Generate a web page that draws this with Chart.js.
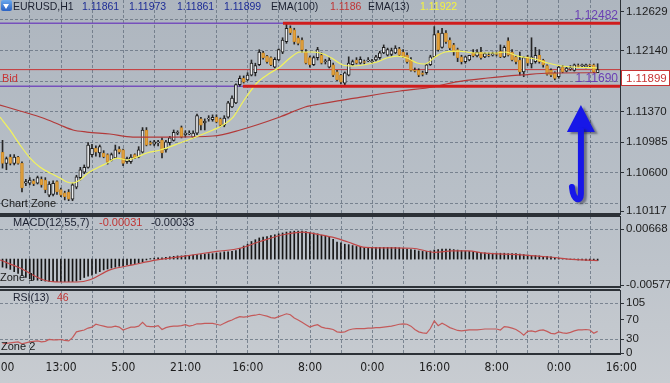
<!DOCTYPE html>
<html>
<head>
<meta charset="utf-8">
<script src="https://cdn.jsdelivr.net/npm/chart.js@4.4.0/dist/chart.umd.min.js"></script>
<style>
html, body { margin: 0; padding: 0; }
body {
    width: 670px; height: 383px; overflow: hidden; position: relative;
    background: linear-gradient(180deg, #aeb6bf 0%, #b9c0c8 55%, #c8ccd1 100%);
    font-family: "Liberation Sans", Arial, sans-serif;
}
canvas { position: absolute; left: 0; top: 0; }
.t { position: absolute; white-space: nowrap; font-size: 10.5px; line-height: 12px; color: #1b2030; }
.blue { color: #1d2c96; }
.red { color: #c03434; }
.yel { color: #f4f23e; }
.zone { font-size: 11px; color: #1a1a1a; }
#icon { position: absolute; left: 1px; top: 0; width: 11px; height: 11px; background: linear-gradient(#6aa8ec, #2a62c4); border-radius: 2px; }
#icon:after { content: ""; position: absolute; left: 2px; top: 4px; border-left: 3.5px solid transparent; border-right: 3.5px solid transparent; border-top: 5px solid #fff; }
</style>
</head>
<body>
<canvas id="main" width="670" height="383"></canvas>
<canvas id="macd" width="670" height="383"></canvas>
<canvas id="rsi" width="670" height="383"></canvas>

<div id="icon"></div>
<div class="t" style="left:13px;top:0">EURUSD,H1</div>
<div class="t blue" style="left:82px;top:0">1.11861</div>
<div class="t blue" style="left:129px;top:0">1.11973</div>
<div class="t blue" style="left:177px;top:0">1.11861</div>
<div class="t blue" style="left:224px;top:0">1.11899</div>
<div class="t" style="left:271px;top:0">EMA(100)</div>
<div class="t red" style="left:330px;top:0">1.1186</div>
<div class="t" style="left:368px;top:0">EMA(13)</div>
<div class="t yel" style="left:420px;top:0">1.11922</div>
<div class="t zone" style="left:1px;top:197px">Chart Zone</div>

<div class="t" style="left:13px;top:216px;font-size:11px">MACD(12,55,7)</div>
<div class="t red" style="left:99px;top:216px;font-size:11px">-0.00031</div>
<div class="t" style="left:151px;top:216px;font-size:11px">-0.00033</div>
<div class="t zone" style="left:0;top:271px">Zone 1</div>

<div class="t" style="left:13px;top:291px">RSI(13)</div>
<div class="t red" style="left:57px;top:291px">46</div>
<div class="t zone" style="left:1px;top:340px">Zone 2</div>

<script>
// EURUSD H1, one value per bar (bar 0 = leftmost)
const OPENS = [1.1086,1.1072,1.1080,1.1072,1.1080,1.1072,1.1047,1.1047,1.1050,1.1047,1.1052,1.1051,1.1032,1.1033,1.1049,1.1039,1.1035,1.1036,1.1027,1.1042,
1.1054,1.1061,1.1067,1.1083,1.1091,1.1085,1.1085,1.1083,1.1076,1.1079,1.1090,1.1089,1.1074,1.1074,1.1083,1.1080,1.1086,1.1114,1.1098,1.1096,
1.1098,1.1101,1.1089,1.1098,1.1101,1.1110,1.1117,1.1108,1.1109,1.1105,1.1110,1.1128,1.1123,1.1128,1.1127,1.1130,1.1128,1.1120,1.1130,1.1143,
1.1148,1.1171,1.1179,1.1177,1.1183,1.1186,1.1196,1.1211,1.1207,1.1205,1.1193,1.1202,1.1212,1.1225,1.1242,1.1240,1.1230,1.1227,1.1212,1.1205,
1.1196,1.1205,1.1208,1.1200,1.1193,1.1196,1.1187,1.1183,1.1173,1.1183,1.1196,1.1202,1.1198,1.1200,1.1201,1.1200,1.1202,1.1205,1.1211,1.1208,
1.1209,1.1211,1.1216,1.1212,1.1208,1.1202,1.1189,1.1189,1.1186,1.1186,1.1196,1.1206,1.1236,1.1218,1.1236,1.1227,1.1221,1.1215,1.1206,1.1200,
1.1202,1.1211,1.1207,1.1212,1.1206,1.1208,1.1208,1.1210,1.1213,1.1206,1.1226,1.1212,1.1206,1.1202,1.1187,1.1206,1.1197,1.1200,1.1208,1.1202,
1.1195,1.1189,1.1186,1.1181,1.1193,1.1188,1.1191,1.1189,1.1195,1.1195,1.1193,1.1196,1.1196,1.11861];
const HIGHS = [1.1101,1.1080,1.1083,1.1083,1.1081,1.1074,1.1052,1.1054,1.1052,1.1056,1.1055,1.1054,1.1049,1.1050,1.1050,1.1041,1.1037,1.1039,1.1047,1.1057,
1.1067,1.1070,1.1098,1.1096,1.1094,1.1095,1.1088,1.1084,1.1085,1.1095,1.1093,1.1090,1.1080,1.1083,1.1084,1.1093,1.1117,1.1117,1.1100,1.1101,
1.1101,1.1104,1.1101,1.1106,1.1114,1.1113,1.1119,1.1113,1.1113,1.1113,1.1134,1.1130,1.1128,1.1132,1.1133,1.1133,1.1129,1.1132,1.1150,1.1157,
1.1172,1.1182,1.1182,1.1186,1.1202,1.1198,1.1215,1.1213,1.1208,1.1206,1.1205,1.1216,1.1230,1.1247,1.1245,1.1242,1.1232,1.1230,1.1215,1.1207,
1.1207,1.1218,1.1211,1.1203,1.1205,1.1198,1.1189,1.1184,1.1187,1.1206,1.1202,1.1205,1.1206,1.1202,1.1205,1.1203,1.1208,1.1213,1.1221,1.1217,
1.1217,1.1220,1.1218,1.1215,1.1211,1.1205,1.1192,1.1191,1.1188,1.1197,1.1208,1.1244,1.1239,1.1242,1.1239,1.1230,1.1223,1.1217,1.1208,1.1207,
1.1208,1.1215,1.1215,1.1218,1.1211,1.1211,1.1212,1.1212,1.1221,1.1220,1.1230,1.1215,1.1208,1.1212,1.1206,1.1208,1.1230,1.1218,1.1215,1.1203,
1.1196,1.1191,1.1187,1.1195,1.1195,1.1193,1.1195,1.1197,1.1197,1.1197,1.1197,1.1197,1.1197,1.11973];
const LOWS = [1.1066,1.1064,1.1070,1.1070,1.1071,1.1036,1.1044,1.1045,1.1044,1.1046,1.1042,1.1035,1.1030,1.1031,1.1033,1.1030,1.1026,1.1025,1.1025,1.1040,
1.1051,1.1059,1.1066,1.1080,1.1081,1.1080,1.1079,1.1071,1.1075,1.1078,1.1084,1.1069,1.1072,1.1072,1.1078,1.1079,1.1085,1.1094,1.1095,1.1094,
1.1094,1.1079,1.1086,1.1095,1.1100,1.1108,1.1104,1.1105,1.1108,1.1104,1.1108,1.1114,1.1114,1.1125,1.1125,1.1123,1.1118,1.1118,1.1129,1.1142,
1.1147,1.1169,1.1173,1.1176,1.1182,1.1182,1.1195,1.1203,1.1198,1.1195,1.1192,1.1201,1.1210,1.1223,1.1234,1.1222,1.1221,1.1212,1.1197,1.1193,
1.1195,1.1202,1.1197,1.1197,1.1192,1.1181,1.1176,1.1172,1.1171,1.1182,1.1195,1.1197,1.1197,1.1197,1.1200,1.1198,1.1201,1.1203,1.1210,1.1207,
1.1207,1.1210,1.1207,1.1205,1.1198,1.1188,1.1187,1.1181,1.1182,1.1184,1.1195,1.1205,1.1213,1.1217,1.1223,1.1215,1.1208,1.1200,1.1197,1.1198,
1.1201,1.1206,1.1206,1.1203,1.1205,1.1206,1.1207,1.1207,1.1205,1.1205,1.1207,1.1201,1.1197,1.1183,1.1181,1.1195,1.1192,1.1198,1.1198,1.1193,
1.1183,1.1181,1.1177,1.1179,1.1186,1.1187,1.1189,1.1188,1.1193,1.1193,1.1192,1.1193,1.1186,1.11861];
const CLOSES = [1.1072,1.1078,1.1072,1.1080,1.1072,1.1041,1.1049,1.1051,1.1046,1.1054,1.1045,1.1039,1.1046,1.1047,1.1036,1.1032,1.1030,1.1027,1.1045,1.1055,
1.1064,1.1067,1.1095,1.1091,1.1086,1.1093,1.1080,1.1074,1.1083,1.1089,1.1086,1.1072,1.1078,1.1080,1.1079,1.1089,1.1114,1.1095,1.1096,1.1099,
1.1099,1.1085,1.1099,1.1104,1.1111,1.1111,1.1105,1.1110,1.1110,1.1110,1.1132,1.1120,1.1125,1.1129,1.1130,1.1124,1.1120,1.1129,1.1148,1.1154,
1.1171,1.1179,1.1174,1.1183,1.1198,1.1195,1.1212,1.1205,1.1200,1.1196,1.1203,1.1215,1.1227,1.1242,1.1236,1.1225,1.1223,1.1215,1.1198,1.1196,
1.1205,1.1215,1.1198,1.1201,1.1202,1.1183,1.1177,1.1174,1.1186,1.1198,1.1200,1.1198,1.1203,1.1199,1.1202,1.1201,1.1206,1.1211,1.1218,1.1215,
1.1214,1.1217,1.1208,1.1206,1.1200,1.1189,1.1188,1.1183,1.1184,1.1196,1.1206,1.1234,1.1215,1.1236,1.1225,1.1217,1.1212,1.1205,1.1200,1.1206,
1.1208,1.1207,1.1212,1.1205,1.1210,1.1207,1.1210,1.1209,1.1206,1.1218,1.1208,1.1202,1.1200,1.1187,1.1205,1.1198,1.1206,1.1208,1.1200,1.1196,
1.1184,1.1183,1.1179,1.1193,1.1187,1.1192,1.1192,1.1196,1.1194,1.1196,1.1196,1.1195,1.1187,1.11899];

// indicator lines read at sample bars
const EMA13_BARS = [-0.65,1.9,4.5,7.1,9.6,12.2,14.8,16.6,17.9,19.9,22,24.3,26.9,29.4,32,34.6,37.1,40.5,45.6,49,54.1,56.7,59.3,61.8,65.4,68.8,71.3,73.9,76.5,79.8,82.5,85,87.5,90.1,92.7,96.3,98.8,101.4,104,106.6,108.6,111.2,113.8,117.1,121.5,126.6,129.2,132.5,136.9,140.2,143.8,146.5,152.8];
const EMA13_VALS = [1.11303,1.11140,1.10951,1.10787,1.10674,1.10599,1.10536,1.10485,1.10473,1.10511,1.10599,1.10662,1.10724,1.10787,1.10762,1.10800,1.10850,1.10888,1.10976,1.11039,1.11140,1.11203,1.11303,1.11492,1.11731,1.11857,1.11932,1.12045,1.12121,1.12121,1.12096,1.12033,1.11957,1.11945,1.11957,1.11995,1.12045,1.12070,1.12045,1.11982,1.11970,1.12058,1.12121,1.12133,1.12108,1.12108,1.12121,1.12070,1.12033,1.11982,1.11945,1.11932,1.11922];
const EMA100_BARS = [-0.65,4.5,10.4,14.8,18.1,21.7,27.6,33.5,43.8,54.1,61.1,71.3,77.8,81.6,90.6,102.2,110.7,116.3,124.8,133.6,140.8,152.8];
const EMA100_VALS = [1.11454,1.11379,1.11291,1.11203,1.11140,1.11114,1.11089,1.11051,1.11051,1.11064,1.11140,1.11303,1.11429,1.11467,1.11540,1.11630,1.11681,1.11743,1.11794,1.11832,1.11857,1.11860];

const MACD_HIST = [-0.0018,-0.0020,-0.0023,-0.0028,-0.0032,-0.0037,-0.0041,-0.0044,-0.0046,-0.0047,-0.0048,-0.0049,-0.0050,-0.0050,-0.0050,-0.0050,-0.0050,-0.0050,-0.0050,-0.0049,
-0.0046,-0.0041,-0.0038,-0.0036,-0.0032,-0.0028,-0.0024,-0.0022,-0.0020,-0.0018,-0.0016,-0.0016,-0.0013,-0.0012,-0.0010,-0.0008,-0.0006,-0.0002,0.0001,0.0002,
0.0003,0.0003,0.0004,0.0005,0.0006,0.0007,0.0007,0.0008,0.0008,0.0009,0.0010,0.0010,0.0011,0.0012,0.0012,0.0013,0.0014,0.0016,0.0016,0.0017,
0.0019,0.0024,0.0029,0.0033,0.0039,0.0043,0.0047,0.0049,0.0050,0.0052,0.0054,0.0056,0.0058,0.0060,0.0061,0.0062,0.0062,0.0062,0.0061,0.0059,
0.0058,0.0056,0.0053,0.0051,0.0049,0.0044,0.0038,0.0036,0.0033,0.0032,0.0030,0.0028,0.0027,0.0026,0.0026,0.0026,0.0026,0.0026,0.0026,0.0026,
0.0026,0.0026,0.0025,0.0024,0.0022,0.0021,0.0020,0.0018,0.0017,0.0017,0.0018,0.0020,0.0021,0.0022,0.0022,0.0022,0.0021,0.0020,0.0019,0.0018,
0.0017,0.0016,0.0015,0.0014,0.0014,0.0013,0.0013,0.0013,0.0013,0.0013,0.0012,0.0012,0.0012,0.0011,0.0010,0.0009,0.0008,0.0008,0.0007,0.0006,
0.0006,0.0005,0.0003,0.0002,0.0001,0.0000,-0.0001,-0.0001,-0.0002,-0.0002,-0.0003,-0.0003,-0.0003,-0.00031];
const SIGNAL_BARS = [-0.65,4.5,10.4,14.8,19.2,22.5,27.6,33.5,39.7,46.4,55.1,61.1,66.2,72.1,77.2,81.6,85.5,88.8,93.2,105.3,111.2,115.6,119.7,124,132.5,141.3,145.4,153];
const SIGNAL_VALS = [-0.0002,-0.0020,-0.0046,-0.0051,-0.0051,-0.0046,-0.0024,-0.0013,-0.0002,0.0006,0.0017,0.0024,0.0039,0.0054,0.0060,0.0054,0.0047,0.0038,0.0026,0.0024,0.0015,0.0018,0.0018,0.0013,0.0010,0.0004,0.0000,-0.00033];

const RSI = [20,21,22,23,24,20,22,24,25,26,24,25,29,28,28,29,27,26,33,45,
47,49,53,55,61,59,57,55,55,57,55,49,52,55,55,57,65,57,56,56,
58,50,54,56,57,57,58,60,57,59,62,62,63,63,63,61,59,63,67,70,
74,77,76,77,79,80,82,80,78,75,74,77,80,83,81,74,70,65,60,55,
58,60,55,53,52,50,45,44,45,49,51,52,52,52,53,53,54,54,55,56,
57,59,61,62,61,57,50,45,43,42,52,68,58,63,59,54,51,48,47,48,
49,49,49,50,51,51,51,51,49,56,55,53,50,45,38,46,47,45,48,49,
46,42,41,45,43,42,44,47,49,49,50,49,42,46];

// axis ticks
const TIME_LABELS = ['21:00','13:00','5:00','21:00','16:00','8:00','0:00','16:00','8:00','0:00','16:00'];
const PRICE_LABELS = [1.12629, 1.12140, 1.11370, 1.10985, 1.10600, 1.10117];
const PRICE_GRID = [1.12525, 1.12140, 1.11755, 1.11370, 1.10985, 1.10600, 1.10215];
const MACD_LABELS = [0.00668, -0.00577];
const MACD_GRID = [0.00668];
const RSI_LABELS = [105, 70, 30, 0];
const RSI_GRID = [105, 30];

// levels and drawn objects
const LEVEL_HIGH = 1.12482;
const LEVEL_LOW = 1.11690;
const BID = 1.11899;
const TREND_HIGH_FROM = 72.1;
const TREND_LOW_FROM = 61.8;
const ARROW_BAR = 148.7, ARROW_TIP = 1.11454, ARROW_BASE = 1.11114, ARROW_TAIL = 1.10259, ARROW_HOOK = 1.10423;

const BAR_MIN = -0.65, BAR_MAX = 158.75, GRID_X0 = 7.06;
const GRID_COLOR = 'rgba(98,110,124,0.75)';
const AXIS_COLOR = '#2c3137';
const TXT = '#1c1c1c';
const UP_FILL = '#eef0f2', DOWN_FILL = '#e4a23c', WICK = '#262626';

const axisFont = { family: 'Liberation Sans, Arial, sans-serif', size: 11.5 };

function xAxis(showLabels) {
    return {
        type: 'linear', min: BAR_MIN, max: BAR_MAX, offset: false,
        afterBuildTicks: s => {
            s.ticks = [];
            for (let k = -1; k <= 19; k++) s.ticks.push({ value: GRID_X0 + 8 * k });
        },
        ticks: {
            display: showLabels, autoSkip: false, maxRotation: 0, minRotation: 0, padding: 7,
            color: TXT, font: { family: 'Liberation Sans Narrow, DejaVu Sans Condensed, Liberation Sans, sans-serif', size: 12 },
            callback: (v, i) => (i % 2 === 0 ? TIME_LABELS[i / 2] : '')
        },
        grid: { offset: false, drawTicks: false, lineWidth: 1,
            color: c => (c.index === 0 || c.index === 20) ? 'transparent' : GRID_COLOR },
        border: { display: false, dash: [3, 2] },
        afterFit: s => { s.height = showLabels ? 29 : 0; s.paddingLeft = 0; s.paddingRight = 0; }
    };
}

function yAxis(min, max, labels, grid, fmt) {
    return {
        position: 'right', min: min, max: max, beginAtZero: false,
        afterBuildTicks: s => {
            const all = [...new Set([...labels, ...grid])].sort((a, b) => b - a);
            s.ticks = all.map(v => ({ value: v }));
        },
        ticks: { padding: 2, color: TXT, font: axisFont, autoSkip: false,
            callback: v => labels.includes(v) ? fmt(v) : '' },
        grid: { lineWidth: 1, tickLength: 4, tickBorderDash: [],
            color: c => (c.tick && grid.includes(c.tick.value)) ? GRID_COLOR : 'transparent',
            tickColor: c => (c.tick && labels.includes(c.tick.value)) ? AXIS_COLOR : 'transparent' },
        border: { display: true, color: AXIS_COLOR, width: 1, dash: [3, 2] },
        afterFit: s => { s.width = 50; s.paddingTop = 0; s.paddingBottom = 0; }
    };
}

const framePlugin = {
    id: 'frame',
    afterDraw(chart, args, opts) {
        const { ctx, chartArea: a } = chart;
        ctx.save();
        ctx.strokeStyle = AXIS_COLOR;
        ctx.lineWidth = 2;
        if (opts.top) { ctx.beginPath(); ctx.moveTo(0, a.top); ctx.lineTo(a.right, a.top); ctx.stroke(); }
        if (opts.bottom) { ctx.beginPath(); ctx.moveTo(0, a.bottom); ctx.lineTo(a.right, a.bottom); ctx.stroke(); }
        ctx.restore();
    }
};

// labels on the levels, bid box and the blue arrow
const mainDecor = {
    id: 'mainDecor',
    afterDatasetsDraw(chart) {
        const { ctx, chartArea: a, scales: { x, y } } = chart;
        ctx.save();
        ctx.font = '11px Liberation Sans, Arial, sans-serif';
        ctx.textBaseline = 'alphabetic';
        ctx.fillStyle = '#c83434';
        ctx.textAlign = 'left';
        ctx.fillText('Bid', 2, y.getPixelForValue(BID) + 12);
        ctx.fillStyle = '#6a3fb4';
        ctx.textAlign = 'right';
        ctx.font = '12px Liberation Sans, Arial, sans-serif';
        ctx.fillText(LEVEL_HIGH.toFixed(5), a.right - 2, y.getPixelForValue(LEVEL_HIGH) - 4);
        ctx.fillText(LEVEL_LOW.toFixed(5), a.right - 2, y.getPixelForValue(LEVEL_LOW) - 4);

        // arrow
        const cx = x.getPixelForValue(ARROW_BAR);
        const tip = y.getPixelForValue(ARROW_TIP), base = y.getPixelForValue(ARROW_BASE);
        const tail = y.getPixelForValue(ARROW_TAIL), hook = y.getPixelForValue(ARROW_HOOK);
        ctx.shadowColor = 'rgba(30,30,50,0.45)';
        ctx.shadowOffsetX = 3; ctx.shadowOffsetY = 2; ctx.shadowBlur = 2;
        ctx.fillStyle = '#1717e8';
        ctx.beginPath();
        ctx.moveTo(cx, tip); ctx.lineTo(cx + 14, base); ctx.lineTo(cx - 14, base);
        ctx.closePath(); ctx.fill();
        ctx.strokeStyle = '#1717e8';
        ctx.lineWidth = 6; ctx.lineCap = 'round'; ctx.lineJoin = 'round';
        ctx.beginPath();
        ctx.moveTo(cx, base - 2);
        ctx.lineTo(cx, tail - 6);
        ctx.quadraticCurveTo(cx, tail, cx - 4, tail - 1);
        ctx.quadraticCurveTo(cx - 8, tail - 3, cx - 9, hook);
        ctx.stroke();
        ctx.restore();
    },
    afterDraw(chart) {
        const { ctx, chartArea: a, scales: { y } } = chart;
        const by = Math.round(y.getPixelForValue(BID));
        ctx.save();
        ctx.fillStyle = '#ffffff';
        ctx.fillRect(a.right + 1, by, 49, 16);
        ctx.strokeStyle = '#c83434';
        ctx.lineWidth = 1;
        ctx.strokeRect(a.right + 1.5, by + 0.5, 48, 15);
        ctx.fillStyle = '#c83434';
        ctx.font = '11.5px Liberation Sans, Arial, sans-serif';
        ctx.textBaseline = 'middle';
        ctx.fillText(BID.toFixed(5), a.right + 6, by + 8.5);
        ctx.restore();
    }
};

const hLine = (v, from, color, width, order) => ({
    type: 'line', data: [{ x: from, y: v }, { x: BAR_MAX, y: v }],
    borderColor: color, borderWidth: width, pointRadius: 0, order: order
});

const idx = OPENS.map((o, i) => i);

new Chart(document.getElementById('main'), {
    type: 'bar',
    data: {
        datasets: [
            hLine(LEVEL_HIGH, TREND_HIGH_FROM, '#d01c1c', 3, 0),
            hLine(LEVEL_LOW, TREND_LOW_FROM, '#d01c1c', 3, 0),
            { type: 'line', data: EMA13_BARS.map((b, i) => ({ x: b, y: EMA13_VALS[i] })),
              borderColor: '#f3f35a', borderWidth: 1.2, pointRadius: 0, cubicInterpolationMode: 'monotone', order: 1 },
            { type: 'line', data: EMA100_BARS.map((b, i) => ({ x: b, y: EMA100_VALS[i] })),
              borderColor: '#b23a3a', borderWidth: 1.2, pointRadius: 0, cubicInterpolationMode: 'monotone', order: 1 },
            { data: idx.map(i => ({ x: i, y: [OPENS[i], CLOSES[i]] })), grouped: false, barThickness: 3,
              backgroundColor: c => CLOSES[c.dataIndex] >= OPENS[c.dataIndex] ? UP_FILL : DOWN_FILL,
              borderColor: c => CLOSES[c.dataIndex] >= OPENS[c.dataIndex] ? '#1e1e1e' : '#c98a2c',
              borderWidth: 1, borderSkipped: false, order: 2 },
            { data: idx.map(i => ({ x: i, y: [LOWS[i], HIGHS[i]] })), grouped: false, barThickness: 1,
              backgroundColor: WICK, borderWidth: 0, order: 3 },
            hLine(LEVEL_HIGH, BAR_MIN, '#7650bc', 1.5, 4),
            hLine(LEVEL_LOW, BAR_MIN, '#7650bc', 1.5, 4),
            hLine(BID, BAR_MIN, '#c83434', 1, 4)
        ]
    },
    options: {
        responsive: false, animation: false, events: [],
        layout: { autoPadding: false, padding: { left: 0, right: 0, top: 0, bottom: 383 - 214 } },
        plugins: { legend: { display: false }, tooltip: { enabled: false }, frame: { bottom: true } },
        scales: {
            x: xAxis(false),
            y: yAxis(1.10083, 1.12775, PRICE_LABELS, PRICE_GRID, v => v.toFixed(5))
        }
    },
    plugins: [framePlugin, mainDecor]
});

new Chart(document.getElementById('macd'), {
    type: 'bar',
    data: {
        datasets: [
            { type: 'line', data: SIGNAL_BARS.map((b, i) => ({ x: b, y: SIGNAL_VALS[i] })),
              borderColor: '#c04646', borderWidth: 1.2, pointRadius: 0, cubicInterpolationMode: 'monotone', order: 0 },
            { data: MACD_HIST.map((v, i) => ({ x: i, y: v })), grouped: false, barThickness: 1,
              backgroundColor: '#161616', borderWidth: 0, order: 1 }
        ]
    },
    options: {
        responsive: false, animation: false, events: [],
        layout: { autoPadding: false, padding: { left: 0, right: 0, top: 216, bottom: 383 - 287 } },
        plugins: { legend: { display: false }, tooltip: { enabled: false }, frame: { top: true, bottom: true } },
        scales: {
            x: xAxis(false),
            y: yAxis(-0.00621, 0.00957, MACD_LABELS, MACD_GRID, v => v.toFixed(5))
        }
    },
    plugins: [framePlugin]
});

new Chart(document.getElementById('rsi'), {
    type: 'line',
    data: {
        datasets: [
            { data: RSI.map((v, i) => ({ x: i, y: v })), borderColor: '#c45a5a', borderWidth: 1.2, pointRadius: 0, tension: 0 }
        ]
    },
    options: {
        responsive: false, animation: false, events: [],
        layout: { autoPadding: false, padding: { left: 0, right: 0, top: 290, bottom: 0 } },
        plugins: { legend: { display: false }, tooltip: { enabled: false }, frame: { top: true, bottom: true } },
        scales: {
            x: xAxis(true),
            y: yAxis(-1.5, 133, RSI_LABELS, RSI_GRID, v => String(v))
        }
    },
    plugins: [framePlugin]
});
</script>
</body>
</html>
